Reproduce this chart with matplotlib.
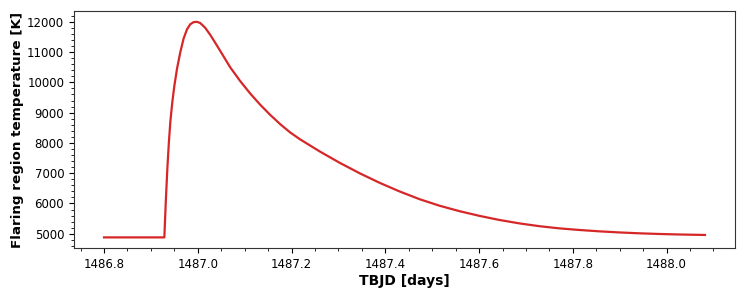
import matplotlib
matplotlib.use('Agg')
import matplotlib.pyplot as plt
from matplotlib.ticker import MultipleLocator

# time (TBJD) and flaring region temperature
tbjd = [1486.800, 1486.850, 1486.900, 1486.9287, 1486.9319, 1486.9351,
        1486.9383, 1486.9415, 1486.9457, 1486.9500, 1486.9557, 1486.9628,
        1486.9698, 1486.9770, 1486.9840, 1486.9911, 1486.9983, 1487.0053,
        1487.0160, 1487.0266, 1487.0372, 1487.0479, 1487.0585, 1487.0691,
        1487.0904, 1487.1117, 1487.1330, 1487.1543, 1487.1755, 1487.1968,
        1487.2181, 1487.2606, 1487.3032, 1487.3457, 1487.3883, 1487.4309,
        1487.4734, 1487.5160, 1487.5585, 1487.6011, 1487.6436, 1487.6862,
        1487.7287, 1487.7713, 1487.8138, 1487.8564, 1487.8989, 1487.9415,
        1487.9840, 1488.0266, 1488.0819]
temp = [4880, 4880, 4880, 4880, 6100, 7150,
        8000, 8700, 9350, 9880, 10450, 11000,
        11450, 11750, 11920, 11990, 12000, 11960,
        11800, 11570, 11310, 11040, 10770, 10500,
        10045, 9635, 9265, 8930, 8625, 8350,
        8120, 7715, 7340, 6995, 6680, 6395,
        6140, 5925, 5745, 5590, 5455, 5342,
        5250, 5178, 5125, 5080, 5044, 5015,
        4993, 4976, 4960]

fig = plt.figure(figsize=(7.47, 2.99), dpi=100)
ax = fig.add_axes([0.099, 0.17, 0.885, 0.793])

ax.plot(tbjd, temp, color='#d62728', lw=1.6)

ax.set_xlabel('TBJD [days]', fontsize=10, fontweight='bold', labelpad=2)
ax.set_ylabel('Flaring region temperature [K]', fontsize=9.7, fontweight='bold',
              labelpad=2)

ax.xaxis.set_major_locator(MultipleLocator(0.2))
ax.xaxis.set_minor_locator(MultipleLocator(0.05))
ax.yaxis.set_major_locator(MultipleLocator(1000))
ax.yaxis.set_minor_locator(MultipleLocator(200))
ax.tick_params(labelsize=8.5)

for s in ax.spines.values():
    s.set_color('#333333')

fig.savefig('out.png', dpi=100)
